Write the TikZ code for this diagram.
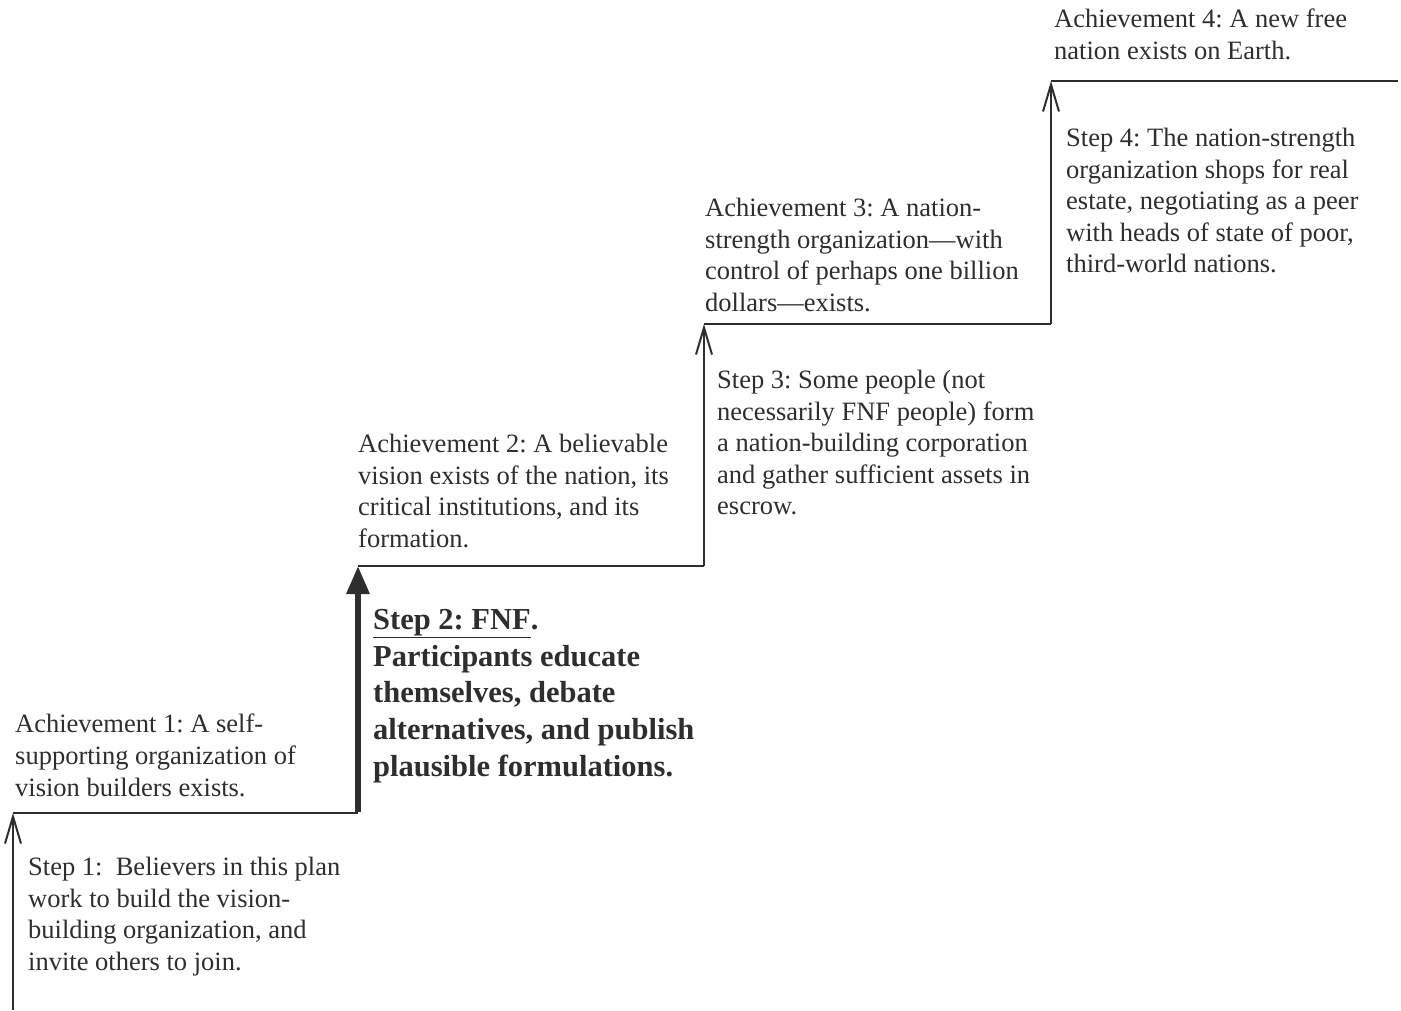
\documentclass[tikz,border=0pt]{standalone}
\usepackage{fontspec}
\setmainfont{Liberation Serif}
\usetikzlibrary{arrows.meta}
\definecolor{ink}{gray}{0.18}
\frenchspacing
\begin{document}
\begin{tikzpicture}[x=1pt,y=-1pt,
  txt/.style={anchor=north west,inner sep=0pt,align=left,text=ink,font=\fontsize{26.5}{31.6}\selectfont\frenchspacing},
  boldtxt/.style={anchor=north west,inner sep=0pt,align=left,text=ink,font=\fontsize{30.5}{36.7}\selectfont\bfseries\frenchspacing},
  stair/.style={draw=ink,line width=2pt},
  openarrow/.style={stair,-{Straight Barb[length=27pt,width=16pt,line width=2pt]}},
  bigarrow/.style={draw=ink,line width=6pt,-{Triangle[length=28pt,width=22pt]}}]
\useasboundingbox (0,0) rectangle (1401,1010);
% stair corners
\coordinate (s0) at (13,1010);
\coordinate (c1) at (13,813);
\coordinate (c1r) at (358,813);
\coordinate (c2) at (358,566);
\coordinate (c2r) at (704,566);
\coordinate (c3) at (704,324);
\coordinate (c3r) at (1051,324);
\coordinate (c4) at (1051,81);
\coordinate (c4r) at (1398,81);
\draw[openarrow] (s0) -- (c1);
\draw[stair] (c1) -- (c1r);
\draw[bigarrow] ([yshift=1pt]c1r) -- (c2);
\draw[stair] (c2) -- (c2r);
\draw[openarrow] (c2r) -- (c3);
\draw[stair] (c3) -- (c3r);
\draw[openarrow] (c3r) -- (c4);
\draw[stair] (c4) -- (c4r);
% texts
\node[txt] (a1) at (15,714) {Achievement 1: A self-\\supporting organization of\\vision builders exists.};
\node[txt] (s1) at (28,857) {Step 1:~ Believers in this plan\\work to build the vision-\\building organization, and\\invite others to join.};
\node[txt] (a2) at (358,434) {Achievement 2: A believable\\vision exists of the nation, its\\critical institutions, and its\\formation.};
\node[boldtxt] (st2) at (373,609) {\underline{Step 2: FNF}.\\Participants educate\\themselves, debate\\alternatives, and publish\\plausible formulations.};
\node[txt] (a3) at (705,198) {Achievement 3: A nation-\\strength organization---with\\control of perhaps one billion\\dollars---exists.};
\node[txt] (s3) at (717,370) {Step 3: Some people (not\\necessarily FNF people) form\\a nation-building corporation\\and gather sufficient assets in\\escrow.};
\node[txt] (a4) at (1054,9) {Achievement 4: A new free\\nation exists on Earth.};
\node[txt] (s4) at (1066,128) {Step 4: The nation-strength\\organization shops for real\\estate, negotiating as a peer\\with heads of state of poor,\\third-world nations.};
\end{tikzpicture}
\end{document}
